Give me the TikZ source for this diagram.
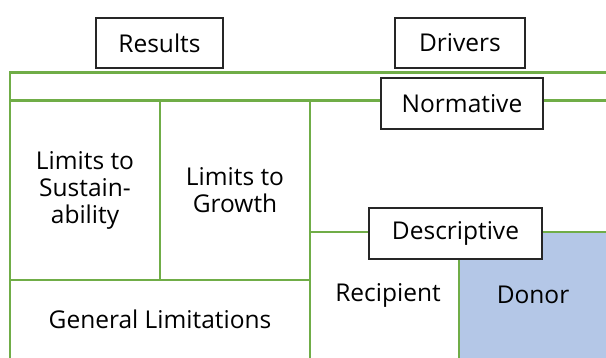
\documentclass[tikz,border=0pt]{standalone}
\usepackage{fontspec}
\setmainfont{Open Sans}
\definecolor{grn}{HTML}{70AD47}
\definecolor{donorblue}{HTML}{B4C7E7}
\tikzset{
  grid/.style={draw=grn, line width=2.8pt},
  labelbox/.style={draw=black!85, line width=1.3pt, fill=white, inner sep=0pt, text=black, font=\fontsize{24.5}{27}\selectfont},
  celltext/.style={align=center, inner sep=0pt, text=black, font=\fontsize{24.5}{27}\selectfont},
}
\begin{document}
\begin{tikzpicture}[x=1pt,y=-1pt]
\useasboundingbox (0,0) rectangle (606,358);
% grid coordinates
\coordinate (tl) at (10,72.7);
\coordinate (tr) at (606,72.7);
\coordinate (bl) at (10,358);
\coordinate (l2a) at (10,100.7);
\coordinate (l2b) at (606,100.7);
\coordinate (v1t) at (160,100.7);
\coordinate (v1b) at (160,280);
\coordinate (v2t) at (310,100.7);
\coordinate (v2b) at (310,358);
\coordinate (h3a) at (10,280);
\coordinate (h3b) at (310,280);
\coordinate (h4a) at (310,232);
\coordinate (h4b) at (606,232);
\coordinate (v3t) at (459,232);
\coordinate (v3b) at (459,358);
\coordinate (dbr) at (606,358);
% donor fill
\fill[donorblue] (v3t) rectangle (dbr);
% green grid
\draw[grid] (tr) -| (bl);
\draw[grid] (l2a) -- (l2b);
\draw[grid] (v1t) -- (v1b);
\draw[grid] (v2t) -- (v2b);
\draw[grid] (h3a) -- (h3b);
\draw[grid] (h4a) -- (h4b);
\draw[grid] (v3t) -- (v3b);
% boxes
\node[labelbox, minimum width=127pt, minimum height=50pt] (results) at (159.5,43) {Results};
\node[labelbox, minimum width=130pt, minimum height=50pt] (drivers) at (460,43) {Drivers};
\node[labelbox, minimum width=162pt, minimum height=51pt] (normative) at (462,103.5) {Normative};
\node[labelbox, minimum width=173pt, minimum height=51pt] (descriptive) at (455.5,233.5) {Descriptive};
% cell texts
\node[celltext] (sust) at (85,190) {Limits to\\Sustain-\\ability};
\node[celltext] (growth) at (235,190) {Limits to\\Growth};
\node[celltext] (general) at (160,319) {General Limitations};
\node[celltext] (recipient) at (388,295) {Recipient};
\node[celltext] (donor) at (533,295) {Donor};
\end{tikzpicture}
\end{document}
